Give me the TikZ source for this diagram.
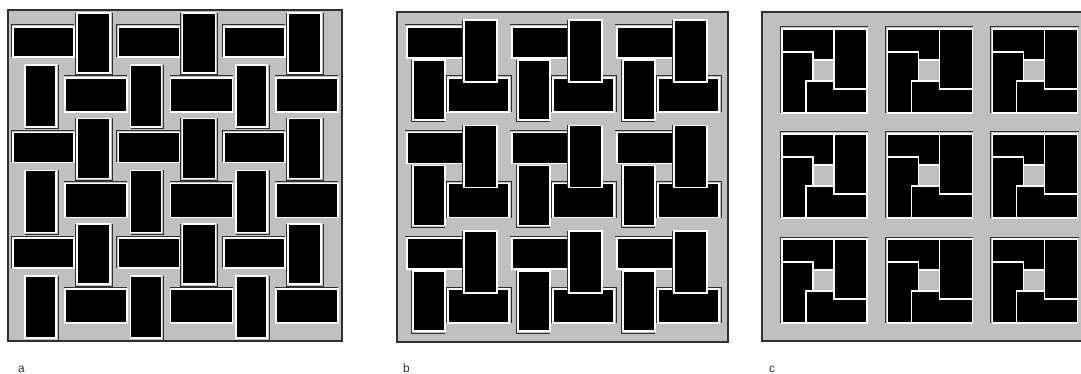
\documentclass[tikz,border=0pt]{standalone}
\usepackage{fontspec}
\setmainfont{Liberation Sans}
\definecolor{panelgray}{HTML}{C0C0C0}
\definecolor{shade}{HTML}{303030}
\tikzset{
    panel/.style = {
        fill=panelgray, draw=shade,
        line width=1.5pt
    },
    brick/.style = {
        fill=black, draw=white,
        line width=1.3pt
    },
    shadow/.style = {
        draw=shade, line width=1pt
    },
    caption/.style = {
        anchor=base west, inner sep=0pt,
        font=\fontsize{12}{14}\selectfont,
        text=black!80
    }
}

\begin{document}
\begin{tikzpicture}[x=1pt, y=-1pt]
\useasboundingbox (0,0) rectangle (1081,374);
\clip (0,0) rectangle (1081,374);

% panel a
\draw [panel] (8,10) rectangle (342,341);
\foreach \i in {0,1,2} {
    \foreach \j in {0,1,2} {
        \begin{scope}[shift={(8+105.5*\i,10+105.5*\j)}]
            \draw [shadow] (3,47) -- (3,15) -- (66,15);
            \filldraw [brick] (5,17) rectangle (66,47);
            \draw [shadow] (67,3) -- (67,65) -- (104,65) -- (104,3);
            \filldraw [brick] (69,3) rectangle (102,63);
            \draw [shadow] (17,119) -- (50,119) -- (50,55);
            \filldraw [brick] (17,55) rectangle (48,117);
            \draw [shadow] (56,66) -- (119,66);
            \filldraw [brick] (57,68) rectangle (119,102);
        \end{scope}
    }
}

% panel b
\draw [panel] (397,12) rectangle (728,342);
\foreach \i in {0,1,2} {
    \foreach \j in {0,1,2} {
        \begin{scope}[shift={(407+105*\i,27+105.5*\j)}]
            \draw [shadow] (-2,-2) -- (56,-2);
            \filldraw [brick] (0,0) rectangle (56,31);
            \draw [shadow] (4,33) -- (4,95) -- (38,95);
            \filldraw [brick] (6,33) rectangle (38,93);
            \draw [shadow] (39,85) -- (39,49) -- (104,49) -- (104,85);
            \filldraw [brick] (41,51) rectangle (102,85);
            \draw [shadow] (55,-7) -- (55,55);
            \filldraw [brick] (57,-7) rectangle (90,55);
        \end{scope}
    }
}

% panel c
\draw [panel] (762,12) rectangle (1095,341);
\foreach \i in {0,1,2} {
    \foreach \j in {0,1,2} {
        \begin{scope}[shift={(782+105.3*\i,29+105*\j)}]
            \draw [shadow] (-2,84) -- (-2,-2) -- (86,-2);
            \filldraw [brick] (0,0) rectangle (61,31);
            \filldraw [brick] (0,23) rectangle (31,84);
            \filldraw [brick] (24,52) rectangle (85,84);
            \filldraw [brick] (52,0) rectangle (85,60);
        \end{scope}
    }
}

\node (capa) [caption] at (18,372) {a};
\node (capb) [caption] at (403,372) {b};
\node (capc) [caption] at (769,372) {c};

\end{tikzpicture}
\end{document}
